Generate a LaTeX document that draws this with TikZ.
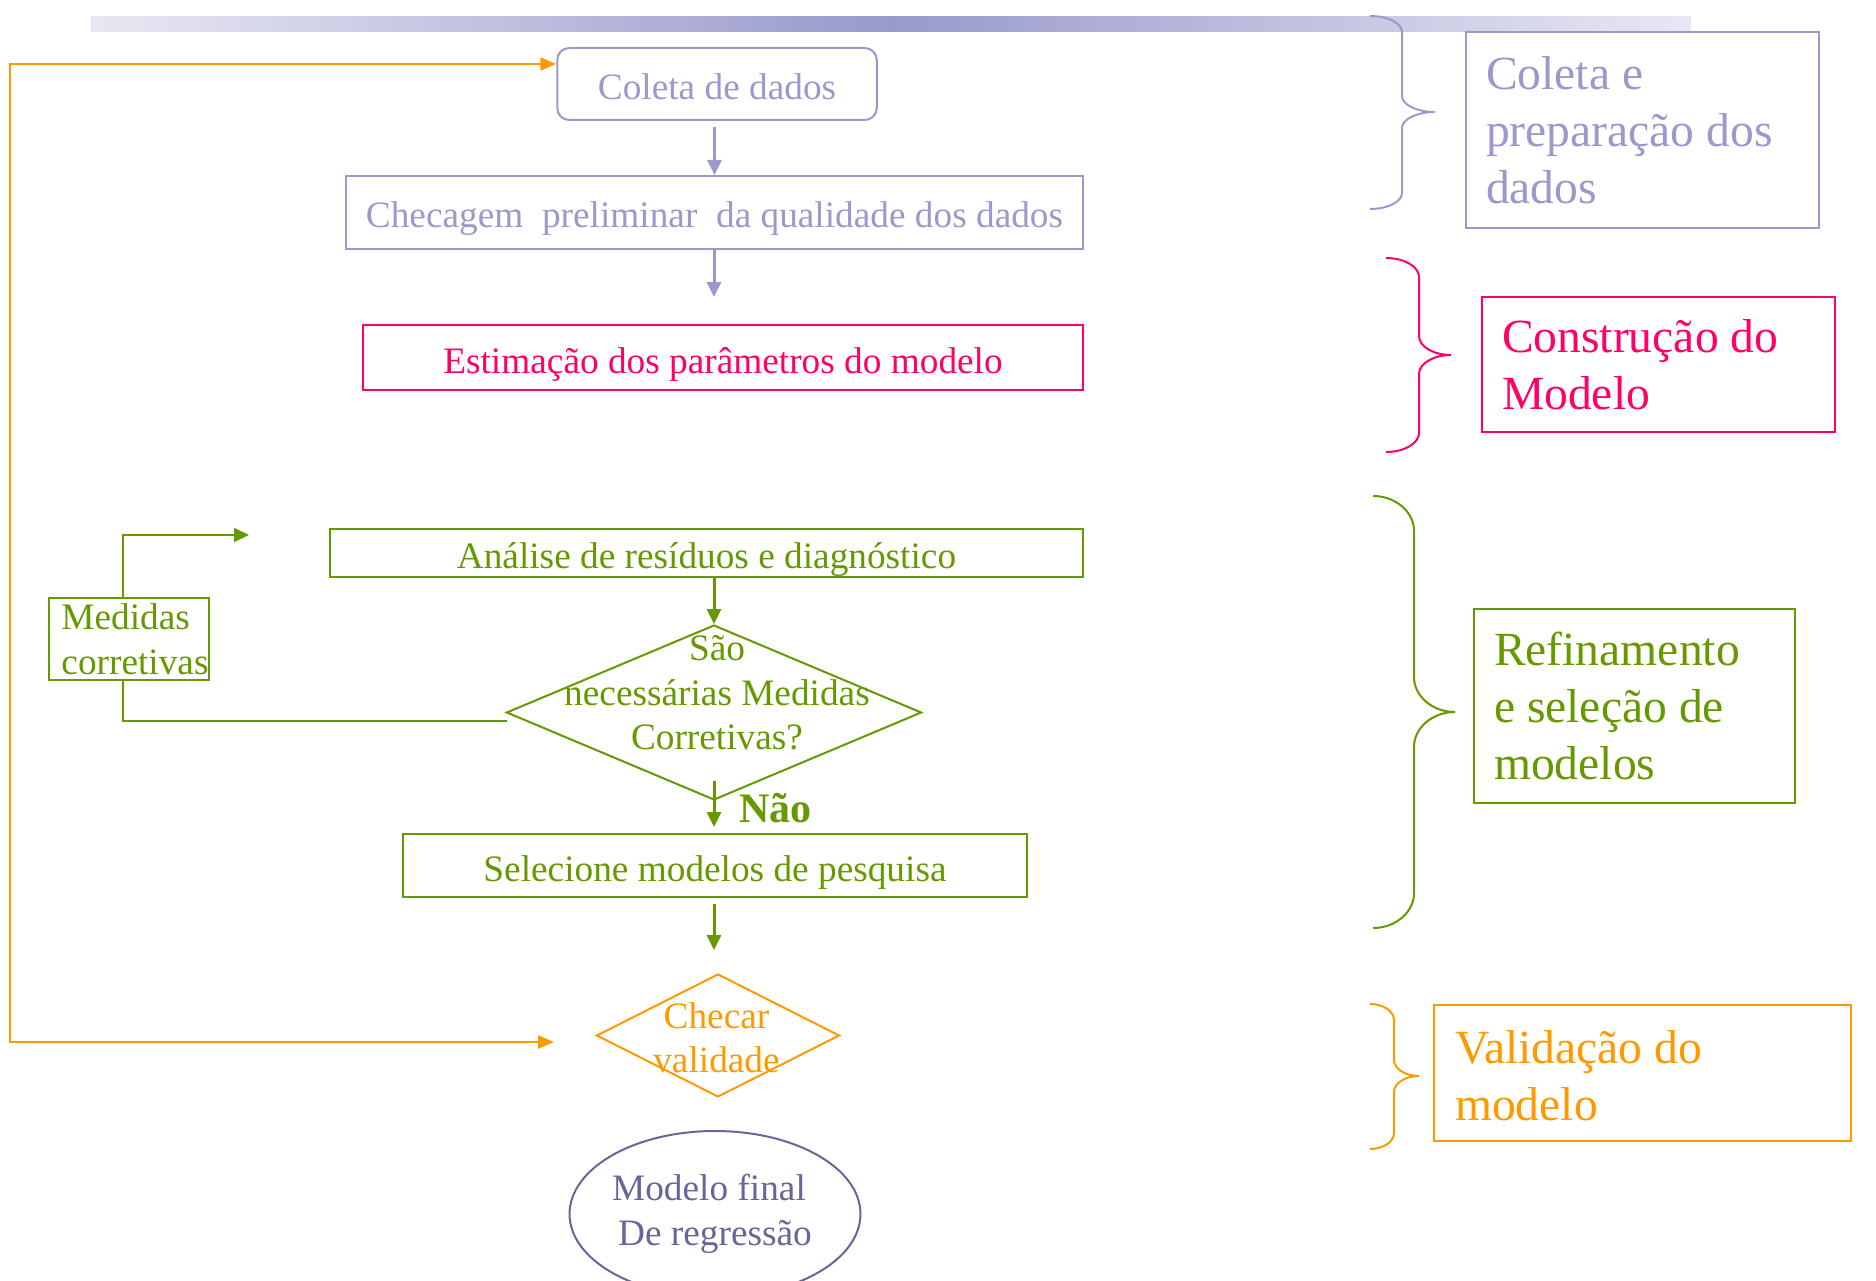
\documentclass[tikz,border=0pt]{standalone}
\usepackage{fontspec}
\setmainfont{Liberation Serif}
\usetikzlibrary{arrows.meta, shapes.geometric}
\definecolor{lav}{HTML}{9999CC}
\definecolor{barlight}{HTML}{E8E8F3}
\definecolor{pnk}{HTML}{FF0066}
\definecolor{grn}{HTML}{669900}
\definecolor{org}{HTML}{FF9900}
\definecolor{slate}{HTML}{666699}
\newcommand{\szA}{\fontsize{37.3pt}{44.5pt}\selectfont}
\newcommand{\szB}{\fontsize{47.6pt}{57pt}\selectfont}
\newcommand{\myBrace}[8]{%
  \draw[#1, line width=2pt] (#2,#5) .. controls ({#2+0.55*(#3-#2)},#5) and (#3,{#5+0.45*#8}) .. (#3,{#5+#8})
   -- (#3,{#6-#8}) .. controls (#3,{#6-0.45*#8}) and ({#4-0.55*(#4-#3)},#6) .. (#4,#6)
   .. controls ({#4-0.55*(#4-#3)},#6) and (#3,{#6+0.45*#8}) .. (#3,{#6+#8})
   -- (#3,{#7-#8}) .. controls (#3,{#7-0.45*#8}) and ({#2+0.55*(#3-#2)},#7) .. (#2,#7);}
\tikzset{
  flowbox/.style={draw, line width=2pt, inner sep=0pt, font=\szA, text height=36pt, text depth=5pt},
  multibox/.style={draw, line width=2pt, inner sep=0pt, font=\fontsize{37.3pt}{44.5pt}\selectfont, align=left},
  sidebox/.style={draw, line width=2pt, inner ysep=0pt, inner xsep=20pt, font=\szB, align=flush left},
  arr/.style={-{Triangle[length=15pt,width=14pt]}, line width=3pt},
  plain/.style={line width=2pt}
}
\begin{document}
\begin{tikzpicture}[x=1pt, y=-1pt]
\useasboundingbox (0,0) rectangle (1876,1281);
% top gradient bar
\shade[left color=barlight, right color=barlight, middle color=lav] (91,17) rectangle (1691,32);

% main flow
\node[flowbox, draw=lav, text=lav, rounded corners=12pt, minimum width=319.5pt, minimum height=72pt] (coleta) at (717,84) {Coleta de dados};
\node[flowbox, draw=lav, text=lav, minimum width=737pt, minimum height=73pt] (checagem) at (714.5,212.5) {Checagem\ \ preliminar\ \ da qualidade dos dados};
\node[flowbox, draw=pnk, text=pnk, minimum width=720.5pt, minimum height=65pt] (estim) at (723,357.5) {Estimação dos parâmetros do modelo};
\node[flowbox, draw=grn, text=grn, minimum width=753pt, minimum height=48pt] (analise) at (706.5,553) {Análise de resíduos e diagnóstico};
\node[diamond, draw=grn, line width=2pt, inner sep=0pt, minimum width=415pt, minimum height=175pt] (q) at (714,712.5) {};
\node[text=grn, font=\fontsize{37.3pt}{44.5pt}\selectfont, align=center, inner sep=0pt] (qtext) at (717,693) {São\\necessárias Medidas\\Corretivas?};
\node[multibox, draw=grn, text=grn, minimum width=160pt, minimum height=82pt] (medidas) at (129,639) {\hspace*{12pt}Medidas\\\hspace*{12pt}corretivas};
\node[flowbox, draw=grn, text=grn, minimum width=624pt, minimum height=63pt] (sel) at (715,865.5) {Selecione modelos de pesquisa};
\node[text=grn, font=\bfseries\fontsize{42pt}{50pt}\selectfont, anchor=base west, inner sep=0pt] (nao) at (739,822) {Não};
\node[diamond, draw=org, line width=2pt, inner sep=0pt, minimum width=243pt, minimum height=123pt] (chk) at (718,1035.5) {};
\node[text=org, font=\fontsize{37.3pt}{44pt}\selectfont, align=center, inner sep=0pt] (chktext) at (716.5,1037.5) {Checar\\validade};
\node[ellipse, draw=slate, text=slate, line width=2pt, inner sep=0pt, minimum width=290pt, minimum height=166pt, font=\fontsize{37.3pt}{45pt}\selectfont, align=center] (final) at (715,1214) {Modelo final\hspace*{12pt}\\De regressão};

% free ends
\coordinate (c2end) at (714,297);
\coordinate (selend) at (714,950);
\coordinate (fbstart) at (507,721);
\coordinate (fbend) at (249,535);
\coordinate (ochk) at (554,1042);
\coordinate (oB) at (10,1042);
\coordinate (oT) at (10,64);

% connectors
\draw[arr, draw=lav, shorten <=6pt] (checagem.north |- coleta.south) -- (checagem.north);
\draw[arr, draw=lav] (c2end |- checagem.south) -- (c2end);
\draw[arr, draw=grn] (q.north |- analise.south) -- (q.north);
\draw[arr, draw=grn] ([yshift=20pt]q.south) -- ([yshift=6pt]q.south |- sel.north);
\draw[arr, draw=grn, shorten <=6pt] (selend |- sel.south) -- (selend);
\draw[plain, draw=grn] (fbstart) -| ([xshift=-6pt]medidas.south);
\draw[arr, draw=grn, line width=2pt] ([xshift=-6pt]medidas.north) |- (fbend);
\draw[draw=org, line width=2.5pt, {Triangle[length=16pt,width=13pt]}-{Triangle[length=16pt,width=13pt]}] (ochk) -- (oB) -- (oT) -- (oT -| coleta.west);

% right side
\myBrace{lav}{1370}{1402}{1435}{16}{112}{209}{16}
\myBrace{pnk}{1386}{1419}{1451}{258}{355}{452}{19}
\myBrace{grn}{1373}{1414}{1455}{496}{712}{928}{35}
\myBrace{org}{1370}{1394}{1419}{1004}{1076}{1149}{16}

\node[sidebox, draw=lav, text=lav, text width=313pt, minimum width=353pt, minimum height=196pt] (b1) at (1642.5,130) {Coleta e\\preparação dos\\dados};
\node[sidebox, draw=pnk, text=pnk, text width=313pt, minimum width=353pt, minimum height=135pt] (b2) at (1658.5,364.5) {Construção do\\Modelo};
\node[sidebox, draw=grn, text=grn, text width=281pt, minimum width=321pt, minimum height=194pt] (b3) at (1634.5,706) {Refinamento\\e seleção de\\modelos};
\node[sidebox, draw=org, text=org, inner xsep=21pt, text width=375pt, minimum width=417pt, minimum height=136pt] (b4) at (1642.5,1073) {\rule{0pt}{38pt}Validação do\\modelo};
\end{tikzpicture}
\end{document}
